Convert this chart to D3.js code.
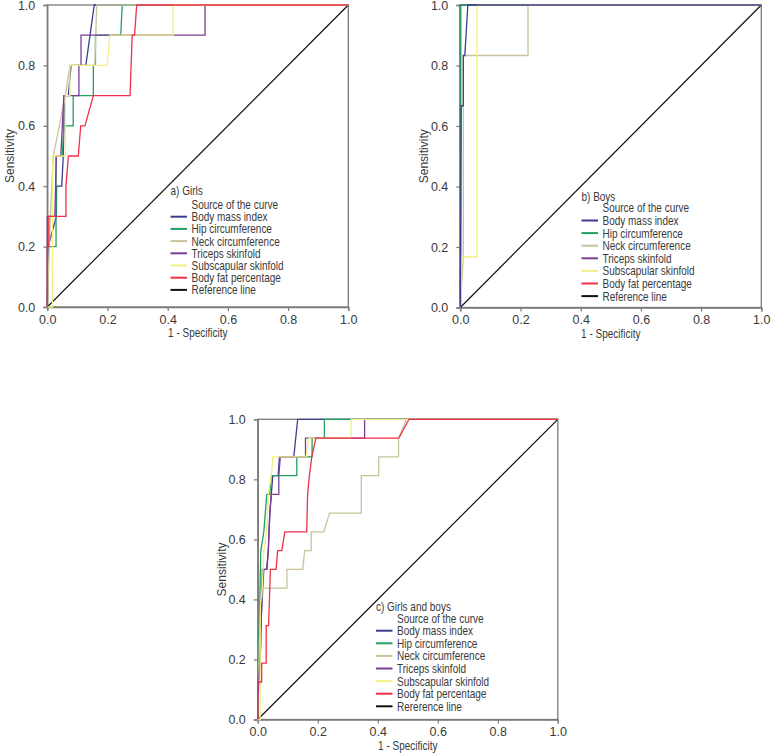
<!DOCTYPE html>
<html>
<head>
<meta charset="utf-8">
<script src="https://cdn.jsdelivr.net/npm/d3@7/dist/d3.min.js"></script>
<style>
  html, body { margin: 0; padding: 0; background: #fff; }
  svg { display: block; }
  text { font-family: "Liberation Sans", Arial, sans-serif; }
</style>
</head>
<body>
<svg id="chart" width="771" height="753"></svg>
<script>
// ---------------- DATA ----------------
const seriesNames = ["Body mass index", "Hip circumference", "Neck circumference",
                     "Triceps skinfold", "Subscapular skinfold", "Body fat percentage"];
const refNameAB = "Reference line";
const refNameC = "Rererence line";
const legendHeader = "Source of the curve";
const panelTitles = ["a) Girls", "b) Boys", "c) Girls and boys"];
const tickValues = [0.0, 0.2, 0.4, 0.6, 0.8, 1.0];
const tickLabels = ["0.0", "0.2", "0.4", "0.6", "0.8", "1.0"];
const xAxisTitle = "1 - Specificity";
const yAxisTitle = "Sensitivity";

// Panel a) Girls  [1 - specificity, sensitivity]
const girlsBMI = [[0,0],[0.003,0.2],[0.03,0.3],[0.031,0.4],[0.048,0.4],[0.053,0.5],[0.055,0.6],[0.0565,0.7],[0.07,0.7],[0.079,0.8],[0.128,0.8],[0.156,1.0],[1,1]];
const girlsHip = [[0,0],[0,0.2],[0.029,0.2],[0.029,0.5],[0.05,0.5],[0.055,0.6],[0.086,0.6],[0.086,0.7],[0.153,0.7],[0.153,0.8],[0.16,0.8],[0.16,0.9],[0.244,0.9],[0.249,1.0],[1,1]];
const girlsNeck = [[0,0],[0.01,0.3],[0.02,0.5],[0.04,0.6],[0.06,0.7],[0.075,0.8],[0.158,0.8],[0.164,1.0],[1,1]];
const girlsTriceps = [[0,0],[0,0.3],[0.025,0.3],[0.03,0.5],[0.045,0.5],[0.05,0.6],[0.055,0.7],[0.105,0.7],[0.105,0.8],[0.112,0.8],[0.112,0.9],[0.524,0.9],[0.524,1.0],[1,1]];
const girlsSubscap = [[0,0],[0.017,0],[0.017,0.5],[0.037,0.5],[0.06,0.5],[0.06,0.7],[0.075,0.7],[0.075,0.8],[0.199,0.8],[0.208,0.9],[0.418,0.9],[0.418,1.0],[1,1]];
const girlsBodyFat = [[0,0],[0,0.2],[0.005,0.2],[0.005,0.3],[0.062,0.3],[0.062,0.4],[0.07,0.5],[0.103,0.5],[0.111,0.6],[0.125,0.6],[0.153,0.7],[0.275,0.7],[0.282,0.9],[0.29,0.9],[0.297,1.0],[1,1]];

// Panel b) Boys
const boysBMI = [[0,0],[0.003,0.667],[0.01,0.667],[0.01,0.833],[0.015,0.833],[0.025,1.0],[1,1]];
const boysHip = [[0,0],[0,1.0],[1,1]];
const boysNeck = [[0,0],[0.01,0.167],[0.01,0.833],[0.225,0.833],[0.225,1.0],[1,1]];
const boysTriceps = [[0,0],[0,1.0],[1,1]];
const boysSubscap = [[0,0],[0.005,0.167],[0.055,0.167],[0.055,1.0],[1,1]];
const boysBodyFat = [[0,0],[0,1.0],[1,1]];

// Panel c) Girls and boys
const allBMI = [[0,0],[0.005,0.25],[0.01,0.3125],[0.02,0.5],[0.03,0.5],[0.035,0.5625],[0.04,0.6875],[0.045,0.75],[0.05,0.8125],[0.068,0.8125],[0.072,0.875],[0.12,0.875],[0.133,1.0],[1,1]];
const allHip = [[0,0],[0,0.125],[0.005,0.3125],[0.01,0.5625],[0.02,0.625],[0.03,0.75],[0.04,0.75],[0.045,0.8125],[0.13,0.8125],[0.13,0.875],[0.181,0.875],[0.181,0.9375],[0.222,0.9375],[0.222,1.0],[1,1]];
const allNeck = [[0,0],[0.005,0.25],[0.01,0.375],[0.017,0.4375],[0.097,0.4375],[0.097,0.5],[0.15,0.5],[0.156,0.5625],[0.178,0.5625],[0.178,0.625],[0.22,0.625],[0.239,0.6875],[0.345,0.6875],[0.345,0.8125],[0.403,0.8125],[0.403,0.875],[0.469,0.875],[0.469,0.9375],[0.47,0.9375],[0.495,1.0],[1,1]];
const allTriceps = [[0,0],[0,0.0625],[0.01,0.25],[0.015,0.5],[0.03,0.5],[0.035,0.5625],[0.04,0.6875],[0.045,0.75],[0.07,0.75],[0.07,0.8125],[0.075,0.875],[0.159,0.875],[0.159,0.9375],[0.356,0.9375],[0.356,1.0],[1,1]];
const allSubscap = [[0,0],[0.008,0],[0.008,0.375],[0.015,0.4375],[0.02,0.5625],[0.03,0.625],[0.035,0.75],[0.045,0.8125],[0.05,0.875],[0.161,0.875],[0.17,0.9375],[0.311,0.9375],[0.311,1.0],[1,1]];
const allBodyFat = [[0,0],[0,0.125],[0.013,0.125],[0.013,0.1875],[0.028,0.1875],[0.028,0.3125],[0.036,0.3125],[0.042,0.5],[0.061,0.5],[0.066,0.5625],[0.08,0.5625],[0.09,0.625],[0.163,0.625],[0.166,0.75],[0.172,0.8125],[0.18,0.875],[0.194,0.9375],[0.47,0.9375],[0.504,1.0],[1,1]];

const referenceLine = [[0,0],[1,1]];

// ---------------- STYLE / LAYOUT ----------------
const colors = ["#3d3d8f", "#22a060", "#c9c49c", "#7a3e98", "#f1ef85", "#ee3149"];
const refColor = "#111111";
const axisColor = "#7a7a7a";
const textColor = "#3a3a3a";
const condense = 0.8;

const panels = [
  { curves: [girlsBMI, girlsHip, girlsNeck, girlsTriceps, girlsSubscap, girlsBodyFat],
    order: [0, 1, 2, 3, 4, 5],
    title: panelTitles[0], refName: refNameAB,
    x0: 47.3, x1: 348.3, yTop: 5, yBot: 307,
    ylabX: 10, legX: 170.5, legTitleY: 194.5, legY0: 216.7, legStep: 12.2 },
  { curves: [boysBMI, boysHip, boysNeck, boysTriceps, boysSubscap, boysBodyFat],
    order: [5, 3, 1, 2, 4, 0],
    title: panelTitles[1], refName: refNameAB,
    x0: 460.3, x1: 761.3, yTop: 5, yBot: 307.5,
    ylabX: 424, legX: 581.5, legTitleY: 201, legY0: 220.5, legStep: 12.6 },
  { curves: [allBMI, allHip, allNeck, allTriceps, allSubscap, allBodyFat],
    order: [0, 1, 2, 3, 4, 5],
    title: panelTitles[2], refName: refNameC,
    x0: 257.8, x1: 557.8, yTop: 419.3, yBot: 719.5,
    ylabX: 222, legX: 376, legTitleY: 611, legY0: 630.7, legStep: 12.6 }
];

const svg = d3.select("#chart");

function ctext(g, x, y, str, size, anchor) {
  return g.append("text")
    .attr("transform", `translate(${x},${y}) scale(${condense},1)`)
    .attr("text-anchor", anchor || "start")
    .attr("fill", textColor)
    .style("font-size", size + "px")
    .text(str);
}

panels.forEach(p => {
  const x = d3.scaleLinear().domain([0, 1]).range([p.x0, p.x1]);
  const y = d3.scaleLinear().domain([0, 1]).range([p.yBot, p.yTop]);
  const g = svg.append("g");

  // frame
  g.append("rect")
    .attr("x", p.x0).attr("y", p.yTop)
    .attr("width", p.x1 - p.x0).attr("height", p.yBot - p.yTop)
    .attr("fill", "none").attr("stroke", axisColor).attr("stroke-width", 1.3);

  // axes
  const xAxis = d3.axisBottom(x).tickValues(tickValues)
    .tickFormat((d, i) => tickLabels[i]).tickSize(4).tickPadding(4);
  const yAxis = d3.axisLeft(y).tickValues(tickValues)
    .tickFormat((d, i) => tickLabels[i]).tickSize(4).tickPadding(8);

  const gx = g.append("g").attr("transform", `translate(0,${p.yBot})`).call(xAxis);
  const gy = g.append("g").attr("transform", `translate(${p.x0},0)`).call(yAxis);
  [gx, gy].forEach(a => {
    a.select(".domain").attr("stroke", axisColor).attr("stroke-width", 1.3);
    a.selectAll(".tick line").attr("stroke", axisColor).attr("stroke-width", 1.2);
    a.selectAll(".tick text").attr("fill", textColor)
      .style("font-family", '"Liberation Sans", Arial, sans-serif')
      .style("font-size", "12.5px");
  });

  // axis titles
  ctext(g, (p.x0 + p.x1) / 2, p.yBot + 30, xAxisTitle, 12.5, "middle");
  g.append("text")
    .attr("transform", `translate(${p.ylabX},${(p.yTop + p.yBot) / 2}) rotate(-90)`)
    .attr("text-anchor", "middle").attr("dominant-baseline", "central")
    .attr("fill", textColor).style("font-size", "12px").text(yAxisTitle);

  // reference line
  const line = d3.line().x(d => x(d[0])).y(d => y(d[1]));
  g.append("path").datum(referenceLine)
    .attr("d", line).attr("fill", "none")
    .attr("stroke", refColor).attr("stroke-width", 1.2);

  // curves
  p.order.forEach(i => {
    g.append("path").datum(p.curves[i])
      .attr("d", line).attr("fill", "none")
      .attr("stroke", colors[i]).attr("stroke-width", 1.3);
  });

  // legend
  const lg = g.append("g");
  ctext(lg, p.legX, p.legTitleY, p.title, 12.5);
  ctext(lg, p.legX + 21, p.legY0 - p.legStep + 4.5, legendHeader, 12.5);
  const names = seriesNames.concat([p.refName]);
  const cols = colors.concat([refColor]);
  names.forEach((n, i) => {
    const yy = p.legY0 + i * p.legStep;
    lg.append("line").attr("x1", p.legX).attr("x2", p.legX + 16.5)
      .attr("y1", yy).attr("y2", yy)
      .attr("stroke", cols[i]).attr("stroke-width", 2);
    ctext(lg, p.legX + 21, yy + 4.5, n, 12.5);
  });
});
</script>
</body>
</html>
